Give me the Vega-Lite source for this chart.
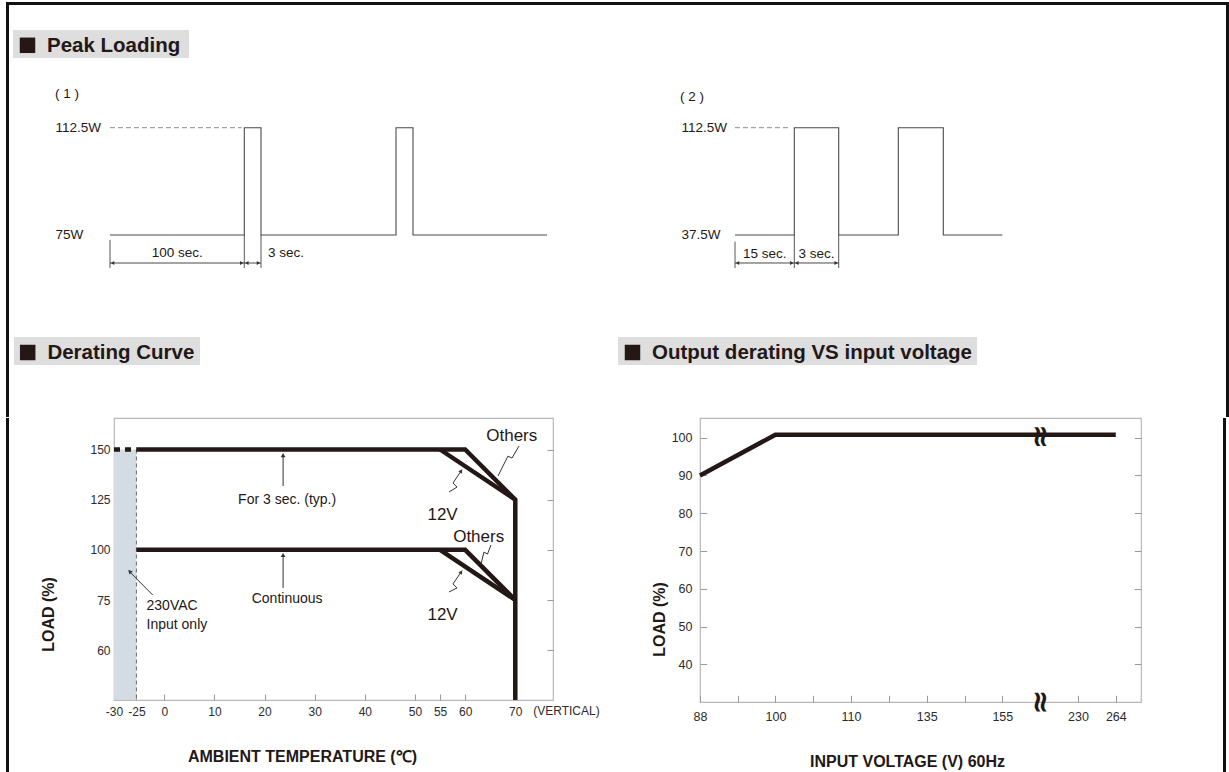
{
"$schema": "https://vega.github.io/schema/vega-lite/v6.json",
"background": "white",
"padding": {"left": 6, "top": 2, "right": 0, "bottom": 0},
"config": {
  "view": {"stroke": null},
  "font": "Liberation Sans, Arial, sans-serif",
  "axis": {"grid": false, "domain": false, "labelColor": "#2b2b2b", "titleColor": "#231815", "tickColor": "#9a9a9a", "labelFlush": false, "labelOverlap": false},
  "text": {"color": "#231815"}
},
"datasets": {
  "p1_wave": [{"i":0,"t":0,"w":75},{"i":1,"t":100,"w":75},{"i":2,"t":100,"w":112.5},{"i":3,"t":103,"w":112.5},{"i":4,"t":103,"w":75},{"i":5,"t":203,"w":75},{"i":6,"t":203,"w":112.5},{"i":7,"t":206,"w":112.5},{"i":8,"t":206,"w":75},{"i":9,"t":306,"w":75}],
  "p1_dash": [{"t":0,"t2":98,"w":112.5}],
  "p1_dim": [{"t":0,"t2":103,"w":65.21}],
  "p1_ext": [{"t":0,"w":73.25,"w2":63.47},{"t":100,"w":75,"w2":63.47},{"t":103,"w":75,"w2":63.47}],
  "p1_arrows": [{"t":1.9,"w":65.21,"dir":"left"},{"t":98.1,"w":65.21,"dir":"right"},{"t":100.45,"w":65.21,"dir":"left"},{"t":102.55,"w":65.21,"dir":"right"}],
  "p1_text": [{"t":50,"w":68.7,"label":"100 sec."},{"t":121.5,"w":68.7,"label":"3 sec."}],
  "p2_wave": [{"i":0,"t":0,"w":37.5},{"i":1,"t":15,"w":37.5},{"i":2,"t":15,"w":112.5},{"i":3,"t":18,"w":112.5},{"i":4,"t":18,"w":37.5},{"i":5,"t":33,"w":37.5},{"i":6,"t":33,"w":112.5},{"i":7,"t":36,"w":112.5},{"i":8,"t":36,"w":37.5},{"i":9,"t":51,"w":37.5}],
  "p2_dash": [{"t":0,"t2":14,"w":112.5}],
  "p2_dim": [{"t":0,"t2":18,"w":17.93}],
  "p2_ext": [{"t":0,"w":32.82,"w2":14.43},{"t":15,"w":37.5,"w2":14.43},{"t":18,"w":37.5,"w2":14.43}],
  "p2_arrows": [{"t":0.63,"w":17.93,"dir":"left"},{"t":14.37,"w":17.93,"dir":"right"},{"t":15.17,"w":17.93,"dir":"left"},{"t":17.83,"w":17.93,"dir":"right"}],
  "p2_text": [{"t":7.5,"w":24.22,"label":"15 sec."},{"t":16.5,"w":24.22,"label":"3 sec."}],
  "der_shade": [{"t":-30,"t2":-25,"load":150,"load2":45}],
  "der_vdash": [{"t":-25,"load":150,"load2":45}],
  "der_hdash": [{"t":-30,"t2":-25,"load":150}],
  "der_lines": [
    {"curve":"peak","i":0,"t":-25,"load":150},{"curve":"peak","i":1,"t":60,"load":150},{"curve":"peak","i":2,"t":70,"load":125},{"curve":"peak","i":3,"t":70,"load":45},
    {"curve":"peak 12V","i":0,"t":55,"load":150},{"curve":"peak 12V","i":1,"t":70,"load":125},
    {"curve":"continuous","i":0,"t":-25,"load":100},{"curve":"continuous","i":1,"t":60,"load":100},{"curve":"continuous","i":2,"t":70,"load":75},
    {"curve":"continuous 12V","i":0,"t":55,"load":100},{"curve":"continuous 12V","i":1,"t":70,"load":75}],
  "der_leaders": [
    {"k":"peak","i":0,"t":23.7,"load":131.8},{"k":"peak","i":1,"t":23.7,"load":146.5},
    {"k":"cont","i":0,"t":23.7,"load":81},{"k":"cont","i":1,"t":23.7,"load":96.5},
    {"k":"ac","i":0,"t":-10.4,"load":77.5},{"k":"ac","i":1,"t":-26.6,"load":89.3},
    {"k":"o1","i":0,"t":70.74,"load":151.7},{"k":"o1","i":1,"t":69.34,"load":145.75},{"k":"o1","i":2,"t":68.54,"load":146.7},{"k":"o1","i":3,"t":66.55,"load":136.8},
    {"k":"v1","i":0,"t":56.78,"load":128.8},{"k":"v1","i":1,"t":58.38,"load":131.3},{"k":"v1","i":2,"t":57.58,"load":133.3},{"k":"v1","i":3,"t":59.37,"load":140.0},
    {"k":"o2","i":0,"t":65.15,"load":102.4},{"k":"o2","i":1,"t":64.46,"load":97.9},{"k":"o2","i":2,"t":63.76,"load":98.9},{"k":"o2","i":3,"t":63.16,"load":92.9},
    {"k":"v2","i":0,"t":56.78,"load":79.0},{"k":"v2","i":1,"t":58.38,"load":81.0},{"k":"v2","i":2,"t":57.58,"load":83.0},{"k":"v2","i":3,"t":59.37,"load":89.6}],
  "der_arrow_up": [{"t":23.7,"load":147.2},{"t":23.7,"load":97.4}],
  "der_arrow_diag": [{"t":-26.5,"load":89.2}],
  "der_arrow_12v": [{"t":59.2,"load":139.3},{"t":59.2,"load":88.9}],
  "der_curve_labels": [{"t":69.3,"load":156.7,"label":"Others"},{"t":55.5,"load":117.4,"label":"12V"},{"t":62.7,"load":106.5,"label":"Others"},{"t":55.5,"load":70.5,"label":"12V"}],
  "der_mode_labels": [{"t":24.5,"load":124.8,"label":"For 3 sec. (typ.)"},{"t":24.5,"load":75.35,"label":"Continuous"}],
  "der_note": [{"t":-15.9,"load":73.2,"label":"230VAC"},{"t":-15.9,"load":67.5,"label":"Input only"}],
  "der_vertical": [{"t":80.2,"load":41.7,"label":"(VERTICAL)"}],
  "out_line": [{"v":88,"load":90},{"v":100,"load":100.8},{"v":264,"load":100.8}],
  "out_break": [{"v":192.5,"load":100.3},{"v":192.5,"load":30.02}]
},
"spacing": 0,
"vconcat": [
  {"width":1223,"height":3,"data":{"values":[]},"mark":"point","view":{"fill":"#111111","stroke":null}},
  {"spacing":0,"hconcat":[
    {"width":3,"height":25,"data":{"values":[]},"mark":"point","view":{"fill":"#111111","stroke":null}},
    {"width":1217,"height":25,"data":{"values":[]},"mark":"point"},
    {"width":3,"height":25,"data":{"values":[]},"mark":"point","view":{"fill":"#111111","stroke":null}}
  ]},
  {"spacing":0,"hconcat":[
    {"width":3,"height":28,"data":{"values":[]},"mark":"point","view":{"fill":"#111111","stroke":null}},
    {"width":4,"height":28,"data":{"values":[]},"mark":"point"},
    {"width":176,"height":28,"view":{"fill":"#dedede","stroke":null},"data":{"values":[{"heading":"Peak Loading"}]},
     "layer":[
       {"mark":{"type":"point","shape":"square","filled":true,"size":240,"color":"#231815","opacity":1},"encoding":{"xOffset":{"value":-73.5},"yOffset":{"value":1.3}}},
       {"mark":{"type":"text","align":"left","baseline":"alphabetic","dx":-54,"dy":8.3,"fontSize":20.5,"fontWeight":"bold","color":"#231815"},"encoding":{"text":{"field":"heading"}}}
     ]},
    {"width":1037,"height":28,"data":{"values":[]},"mark":"point"},
    {"width":3,"height":28,"data":{"values":[]},"mark":"point","view":{"fill":"#111111","stroke":null}}
  ]},
  {"spacing":0,"hconcat":[
    {"width":3,"height":279,"data":{"values":[]},"mark":"point","view":{"fill":"#111111","stroke":null}},
    {"width":591,"height":279,
     "title":{"text":"( 1 )","anchor":"start","frame":"group","offset":-49.6,"dx":46,"fontSize":13.5,"fontWeight":"normal","baseline":"middle","color":"#231815"},
     "resolve":{"axis":{"x":"independent","y":"independent"}},
     "layer":[
       {"data":{"name":"p1_wave"},"mark":{"type":"line","color":"#4a4a4a","strokeWidth":1.1,"strokeJoin":"miter"},
        "encoding":{
          "x":{"field":"t","type":"quantitative","scale":{"domain":[0,100,103,203,206,306],"range":[101,235.3,252,387,404,538],"nice":false,"zero":false},"axis":null},
          "y":{"field":"w","type":"quantitative","scale":{"domain":[39.35,136.86],"nice":false,"zero":false},
               "axis":{"orient":"left","values":[75,112.5],"labelExpr":"datum.value + 'W'","ticks":false,"domain":false,"title":null,"labelAlign":"left","labelPadding":-46,"labelBaseline":"middle","labelFontSize":13.5,"labelColor":"#231815"}},
          "order":{"field":"i"}}},
       {"data":{"name":"p1_dash"},"mark":{"type":"rule","color":"#8a8a8a","strokeDash":[5,3],"strokeWidth":1},
        "encoding":{"x":{"field":"t","type":"quantitative","axis":null},"x2":{"field":"t2"},"y":{"field":"w","type":"quantitative","axis":null}}},
       {"data":{"name":"p1_dim"},"mark":{"type":"rule","color":"#333333","strokeWidth":0.9},
        "encoding":{"x":{"field":"t","type":"quantitative","axis":null},"x2":{"field":"t2"},"y":{"field":"w","type":"quantitative","axis":null}}},
       {"data":{"name":"p1_ext"},"mark":{"type":"rule","color":"#444444","strokeWidth":0.9},
        "encoding":{"x":{"field":"t","type":"quantitative","axis":null},"y":{"field":"w","type":"quantitative","axis":null},"y2":{"field":"w2"}}},
       {"data":{"name":"p1_arrows"},"mark":{"type":"point","filled":true,"size":16,"color":"#333333","opacity":1},
        "encoding":{"x":{"field":"t","type":"quantitative","axis":null},"y":{"field":"w","type":"quantitative","axis":null},
          "shape":{"field":"dir","type":"nominal","scale":{"domain":["left","right"],"range":["triangle-left","triangle-right"]},"legend":null}}},
       {"data":{"name":"p1_text"},"mark":{"type":"text","fontSize":13.5,"baseline":"middle","align":"center","color":"#231815"},
        "encoding":{"x":{"field":"t","type":"quantitative","axis":null},"y":{"field":"w","type":"quantitative","axis":null},"text":{"field":"label"}}}
     ]},
    {"width":500,"height":279,
     "title":{"text":"( 2 )","anchor":"start","frame":"group","offset":-52.6,"dx":80,"fontSize":13.5,"fontWeight":"normal","baseline":"middle","color":"#231815"},
     "resolve":{"axis":{"x":"independent","y":"independent"}},
     "layer":[
       {"data":{"name":"p2_wave"},"mark":{"type":"line","color":"#4a4a4a","strokeWidth":1.1,"strokeJoin":"miter"},
        "encoding":{
          "x":{"field":"t","type":"quantitative","scale":{"domain":[0,15,18,33,36,51],"range":[135,194.3,238.7,298.3,343.3,402.3],"nice":false,"zero":false},"axis":null},
          "y":{"field":"w","type":"quantitative","scale":{"domain":[-33.8,161.22],"nice":false,"zero":false},
               "axis":{"orient":"left","values":[37.5,112.5],"labelExpr":"datum.value + 'W'","ticks":false,"domain":false,"title":null,"labelAlign":"left","labelPadding":-81,"labelBaseline":"middle","labelFontSize":13.5,"labelColor":"#231815"}},
          "order":{"field":"i"}}},
       {"data":{"name":"p2_dash"},"mark":{"type":"rule","color":"#8a8a8a","strokeDash":[5,3],"strokeWidth":1},
        "encoding":{"x":{"field":"t","type":"quantitative","axis":null},"x2":{"field":"t2"},"y":{"field":"w","type":"quantitative","axis":null}}},
       {"data":{"name":"p2_dim"},"mark":{"type":"rule","color":"#333333","strokeWidth":0.9},
        "encoding":{"x":{"field":"t","type":"quantitative","axis":null},"x2":{"field":"t2"},"y":{"field":"w","type":"quantitative","axis":null}}},
       {"data":{"name":"p2_ext"},"mark":{"type":"rule","color":"#444444","strokeWidth":0.9},
        "encoding":{"x":{"field":"t","type":"quantitative","axis":null},"y":{"field":"w","type":"quantitative","axis":null},"y2":{"field":"w2"}}},
       {"data":{"name":"p2_arrows"},"mark":{"type":"point","filled":true,"size":16,"color":"#333333","opacity":1},
        "encoding":{"x":{"field":"t","type":"quantitative","axis":null},"y":{"field":"w","type":"quantitative","axis":null},
          "shape":{"field":"dir","type":"nominal","scale":{"domain":["left","right"],"range":["triangle-left","triangle-right"]},"legend":null}}},
       {"data":{"name":"p2_text"},"mark":{"type":"text","fontSize":13.5,"baseline":"middle","align":"center","color":"#231815"},
        "encoding":{"x":{"field":"t","type":"quantitative","axis":null},"y":{"field":"w","type":"quantitative","axis":null},"text":{"field":"label"}}}
     ]},
    {"width":126,"height":279,"data":{"values":[]},"mark":"point"},
    {"width":3,"height":279,"data":{"values":[]},"mark":"point","view":{"fill":"#111111","stroke":null}}
  ]},
  {"spacing":0,"hconcat":[
    {"width":3,"height":28,"data":{"values":[]},"mark":"point","view":{"fill":"#111111","stroke":null}},
    {"width":5,"height":28,"data":{"values":[]},"mark":"point"},
    {"width":186,"height":28,"view":{"fill":"#dedede","stroke":null},"data":{"values":[{"heading":"Derating Curve"}]},
     "layer":[
       {"mark":{"type":"point","shape":"square","filled":true,"size":240,"color":"#231815","opacity":1},"encoding":{"xOffset":{"value":-79.3},"yOffset":{"value":1.5}}},
       {"mark":{"type":"text","align":"left","baseline":"alphabetic","dx":-59.6,"dy":8.3,"fontSize":20.5,"fontWeight":"bold","color":"#231815"},"encoding":{"text":{"field":"heading"}}}
     ]},
    {"width":418,"height":28,"data":{"values":[]},"mark":"point"},
    {"width":359,"height":28,"view":{"fill":"#dedede","stroke":null},"data":{"values":[{"heading":"Output derating VS input voltage"}]},
     "layer":[
       {"mark":{"type":"point","shape":"square","filled":true,"size":240,"color":"#231815","opacity":1},"encoding":{"xOffset":{"value":-165},"yOffset":{"value":1.5}}},
       {"mark":{"type":"text","align":"left","baseline":"alphabetic","dx":-145.5,"dy":8.3,"fontSize":20.5,"fontWeight":"bold","color":"#231815"},"encoding":{"text":{"field":"heading"}}}
     ]},
    {"width":249,"height":28,"data":{"values":[]},"mark":"point"},
    {"width":3,"height":28,"data":{"values":[]},"mark":"point","view":{"fill":"#111111","stroke":null}}
  ]},
  {"spacing":0,"hconcat":[
    {"width":3,"height":52,"data":{"values":[]},"mark":"point","view":{"fill":"#111111","stroke":null}},
    {"width":1217,"height":52,"data":{"values":[]},"mark":"point"},
    {"width":3,"height":52,"data":{"values":[]},"mark":"point","view":{"fill":"#111111","stroke":null}}
  ]},
  {"spacing":0,"hconcat":[
    {"width":3,"height":355,"data":{"values":[]},"mark":"point","view":{"fill":"#111111","stroke":null}},
    {"width":30,"height":282,"data":{"values":[]},"mark":"point"},
    {"width":439,"height":282,"view":{"stroke":"#b8b8b8","strokeWidth":1.2},
     "resolve":{"axis":{"x":"independent","y":"independent"}},
     "layer":[
       {"data":{"name":"der_shade"},"mark":{"type":"rect","color":"#d3dbe3"},
        "encoding":{
          "x":{"field":"t","type":"quantitative","scale":{"domain":[-30,-25,0,77.52],"range":[0,22.4,50.25,439],"nice":false,"zero":false},
               "axis":{"orient":"bottom","values":[-30,-25,0,10,20,30,40,50,55,60,70],"labelExpr":"replace(datum.label, '−', '-')","title":"AMBIENT TEMPERATURE (℃)","titleX":188,"titleY":56,"titleAlign":"center","titleBaseline":"middle","titleFontSize":16,"titleFontWeight":"bold","tickSize":-6,"labelPadding":17,"labelBaseline":"middle","labelFontSize":12}},
          "x2":{"field":"t2"},
          "y":{"field":"load","type":"quantitative","scale":{"domain":[45,60,75,150,165.7],"range":[282,232,182,31.5,0],"nice":false,"zero":false},
               "axis":{"orient":"left","values":[60,75,100,125,150],"title":"LOAD (%)","titleX":-66,"titleY":196,"titleAngle":270,"titleAlign":"center","titleBaseline":"middle","titleFontSize":16,"titleFontWeight":"bold","tickSize":-5,"labelPadding":9,"labelBaseline":"middle","labelFontSize":12}},
          "y2":{"field":"load2"}}},
       {"data":{"name":"der_vdash"},"mark":{"type":"rule","color":"#6a6a6a","strokeDash":[4,3],"strokeWidth":1},
        "encoding":{"x":{"field":"t","type":"quantitative","axis":null},
          "y":{"field":"load","type":"quantitative","axis":{"orient":"right","values":[60,75,100,125,150],"labels":false,"title":null,"tickSize":-6}},
          "y2":{"field":"load2"}}},
       {"data":{"name":"der_hdash"},"mark":{"type":"rule","color":"#231815","strokeDash":[6,5],"strokeWidth":4.5},
        "encoding":{"x":{"field":"t","type":"quantitative","axis":null},"x2":{"field":"t2"},"y":{"field":"load","type":"quantitative","axis":null}}},
       {"data":{"name":"der_lines"},"mark":{"type":"line","color":"#231815","strokeWidth":4.5,"strokeCap":"butt","strokeJoin":"miter"},
        "encoding":{"x":{"field":"t","type":"quantitative","axis":null},"y":{"field":"load","type":"quantitative","axis":null},"detail":{"field":"curve"},"order":{"field":"i"}}},
       {"data":{"name":"der_leaders"},"mark":{"type":"line","color":"#333333","strokeWidth":1},
        "encoding":{"x":{"field":"t","type":"quantitative","axis":null},"y":{"field":"load","type":"quantitative","axis":null},"detail":{"field":"k"},"order":{"field":"i"}}},
       {"data":{"name":"der_arrow_up"},"mark":{"type":"point","shape":"triangle-up","filled":true,"size":22,"color":"#333333","opacity":1},
        "encoding":{"x":{"field":"t","type":"quantitative","axis":null},"y":{"field":"load","type":"quantitative","axis":null}}},
       {"data":{"name":"der_arrow_diag"},"mark":{"type":"point","shape":"triangle-up","filled":true,"size":22,"angle":315,"color":"#333333","opacity":1},
        "encoding":{"x":{"field":"t","type":"quantitative","axis":null},"y":{"field":"load","type":"quantitative","axis":null}}},
       {"data":{"name":"der_arrow_12v"},"mark":{"type":"point","shape":"triangle-up","filled":true,"size":18,"angle":34,"color":"#333333","opacity":1},
        "encoding":{"x":{"field":"t","type":"quantitative","axis":null},"y":{"field":"load","type":"quantitative","axis":null}}},
       {"data":{"name":"der_curve_labels"},"mark":{"type":"text","fontSize":17,"baseline":"middle","align":"center"},
        "encoding":{"x":{"field":"t","type":"quantitative","axis":null},"y":{"field":"load","type":"quantitative","axis":null},"text":{"field":"label"}}},
       {"data":{"name":"der_mode_labels"},"mark":{"type":"text","fontSize":14,"baseline":"middle","align":"center"},
        "encoding":{"x":{"field":"t","type":"quantitative","axis":null},"y":{"field":"load","type":"quantitative","axis":null},"text":{"field":"label"}}},
       {"data":{"name":"der_note"},"mark":{"type":"text","fontSize":14,"baseline":"middle","align":"left"},
        "encoding":{"x":{"field":"t","type":"quantitative","axis":null},"y":{"field":"load","type":"quantitative","axis":null},"text":{"field":"label"}}},
       {"data":{"name":"der_vertical"},"mark":{"type":"text","fontSize":12,"baseline":"middle","align":"center","color":"#2b2b2b"},
        "encoding":{"x":{"field":"t","type":"quantitative","axis":null},"y":{"field":"load","type":"quantitative","axis":null},"text":{"field":"label"}}}
     ]},
    {"width":49,"height":282,"data":{"values":[]},"mark":"point"},
    {"width":441,"height":284,"view":{"stroke":"#b8b8b8","strokeWidth":1.2},
     "resolve":{"axis":{"x":"independent","y":"independent"}},
     "layer":[
       {"data":{"name":"out_line"},"mark":{"type":"line","color":"#231815","strokeWidth":4.5,"strokeCap":"butt","strokeJoin":"miter"},
        "encoding":{
          "x":{"field":"v","type":"quantitative","scale":{"domain":[88,100,110,135,155,230,264,286.7],"range":[0,75.4,151,226.7,302.3,378,415.8,441],"nice":false,"zero":false},
               "axis":{"orient":"bottom","values":[88,94,100,105,110,122.5,135,145,155,230,264],"labelExpr":"indexof([88,100,110,135,155,230,264], datum.value) >= 0 ? datum.label : ''","title":"INPUT VOLTAGE (V) 60Hz","titleX":207,"titleY":59,"titleAlign":"center","titleBaseline":"middle","titleFontSize":16,"titleFontWeight":"bold","tickSize":-6.7,"labelPadding":20.9,"labelBaseline":"middle","labelFontSize":12.5}},
          "y":{"field":"load","type":"quantitative","scale":{"domain":[30.02,105.22],"nice":false,"zero":false},
               "axis":{"orient":"left","values":[40,50,60,70,80,90,100],"title":"LOAD (%)","titleX":-41,"titleY":201,"titleAngle":270,"titleAlign":"center","titleBaseline":"middle","titleFontSize":16,"titleFontWeight":"bold","tickSize":-6.7,"labelPadding":14.7,"labelBaseline":"middle","labelFontSize":12.5}}}},
       {"data":{"name":"out_break"},"mark":{"type":"text","text":"≈","angle":90,"fontSize":30,"fontWeight":"bold","font":"DejaVu Sans","color":"#231815","baseline":"middle","align":"center"},
        "encoding":{"x":{"field":"v","type":"quantitative","axis":null},
          "y":{"field":"load","type":"quantitative","axis":{"orient":"right","values":[40,50,60,70,80,90,100],"labels":false,"title":null,"tickSize":-6.7}}}}
     ]},
    {"width":80,"height":282,"data":{"values":[]},"mark":"point"},
    {"width":3,"height":355,"data":{"values":[]},"mark":"point","view":{"fill":"#111111","stroke":null}}
  ]}
]
}
